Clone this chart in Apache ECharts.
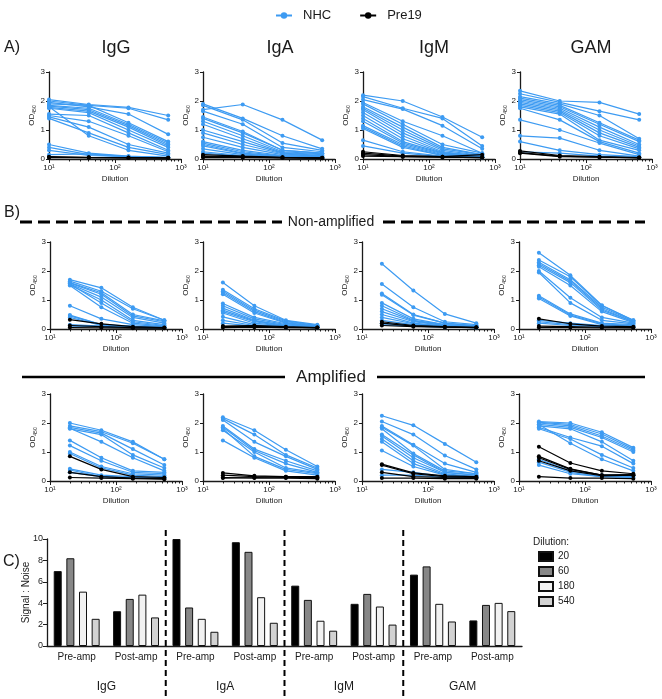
<!DOCTYPE html>
<html>
<head>
<meta charset="utf-8">
<script src="https://cdn.jsdelivr.net/npm/echarts@6/dist/echarts.min.js"></script>
<style>
  html, body { margin: 0; padding: 0; background: #fff; }
  #chart { width: 662px; height: 699px; }
</style>
</head>
<body>
<div id="chart"></div>
<script>
// dilutions (A: 4-fold from 10, B: 3-fold from 20)
const dilA = [10, 40, 160, 640];
const dilB = [20, 60, 180, 540];
const logTicks = { 1: '10\u00b9', 2: '10\u00b2', 3: '10\u00b3' };

// ---- A) ----
const aIgG_nhc = [
  [2.05, 1.88, 1.78, 1.50], [2.00, 1.85, 1.75, 1.35], [1.95, 1.80, 1.55, 0.85], [1.90, 1.85, 1.25, 0.60],
  [1.85, 1.75, 1.20, 0.55], [1.82, 1.70, 1.15, 0.50], [1.78, 1.65, 1.10, 0.45], [1.75, 1.60, 1.00, 0.40],
  [1.55, 1.50, 0.90, 0.30], [1.50, 1.30, 0.80, 0.25], [1.45, 1.10, 0.50, 0.20], [1.40, 0.90, 0.40, 0.15],
  [1.80, 0.80, 0.30, 0.10], [0.50, 0.20, 0.10, 0.05], [0.40, 0.15, 0.08, 0.05], [0.30, 0.12, 0.08, 0.05],
  [0.15, 0.18, 0.08, 0.05]
];
const aIgG_pre = [[0.08, 0.06, 0.05, 0.04], [0.06, 0.05, 0.04, 0.04], [0.05, 0.05, 0.04, 0.03]];

const aIgA_nhc = [
  [1.70, 1.88, 1.35, 0.65], [1.90, 1.40, 0.80, 0.35], [1.85, 1.35, 0.55, 0.30], [1.65, 1.20, 0.40, 0.25],
  [1.45, 0.95, 0.30, 0.20], [1.40, 0.90, 0.30, 0.20], [1.30, 0.80, 0.25, 0.18], [1.20, 0.70, 0.22, 0.15],
  [1.00, 0.60, 0.20, 0.12], [0.90, 0.50, 0.18, 0.10], [0.75, 0.40, 0.15, 0.10], [0.60, 0.30, 0.12, 0.08],
  [0.55, 0.25, 0.10, 0.08], [0.50, 0.20, 0.10, 0.06], [0.45, 0.18, 0.08, 0.05], [0.35, 0.15, 0.08, 0.05],
  [0.25, 0.12, 0.06, 0.04], [0.20, 0.10, 0.06, 0.04]
];
const aIgA_pre = [[0.15, 0.10, 0.06, 0.04], [0.10, 0.08, 0.05, 0.04], [0.08, 0.06, 0.05, 0.03], [0.05, 0.05, 0.04, 0.03]];

const aIgM_nhc = [
  [2.20, 2.00, 1.45, 0.75], [2.15, 1.75, 1.40, 0.45], [2.05, 1.72, 1.15, 0.35], [1.95, 1.30, 0.80, 0.20],
  [1.90, 1.20, 0.50, 0.20], [1.80, 1.10, 0.40, 0.15], [1.75, 1.00, 0.35, 0.15], [1.70, 0.90, 0.30, 0.12],
  [1.60, 0.80, 0.25, 0.10], [1.50, 0.70, 0.22, 0.10], [1.40, 0.60, 0.20, 0.10], [1.30, 0.55, 0.18, 0.08],
  [1.15, 0.50, 0.15, 0.08], [1.10, 0.45, 0.12, 0.08], [1.05, 0.40, 0.12, 0.06], [0.65, 0.25, 0.10, 0.06],
  [0.45, 0.20, 0.08, 0.05]
];
const aIgM_pre = [[0.25, 0.12, 0.08, 0.15], [0.20, 0.10, 0.08, 0.06], [0.15, 0.08, 0.06, 0.05], [0.10, 0.08, 0.06, 0.05]];

const aGAM_nhc = [
  [2.35, 2.00, 1.95, 1.55], [2.25, 1.95, 1.65, 1.35], [2.15, 1.90, 1.50, 0.70], [2.10, 1.85, 1.25, 0.65],
  [2.05, 1.80, 1.20, 0.60], [2.00, 1.75, 1.10, 0.50], [1.95, 1.70, 1.00, 0.45], [1.90, 1.65, 0.90, 0.40],
  [1.85, 1.60, 0.80, 0.35], [1.80, 1.55, 0.65, 0.30], [1.75, 1.35, 0.60, 0.20], [1.35, 1.00, 0.55, 0.15],
  [0.80, 0.72, 0.30, 0.10], [0.60, 0.30, 0.15, 0.08], [0.25, 0.20, 0.10, 0.06]
];
const aGAM_pre = [[0.28, 0.12, 0.08, 0.05], [0.22, 0.10, 0.06, 0.05], [0.20, 0.08, 0.06, 0.04]];

// ---- B) non-amplified ----
const nIgG_nhc = [
  [1.70, 1.42, 0.75, 0.30], [1.65, 1.30, 0.70, 0.30], [1.60, 1.25, 0.50, 0.28], [1.58, 1.20, 0.45, 0.25],
  [1.55, 1.10, 0.40, 0.20], [1.52, 1.00, 0.30, 0.15], [1.55, 0.90, 0.25, 0.12], [1.50, 0.75, 0.20, 0.10],
  [0.80, 0.35, 0.15, 0.08], [0.48, 0.15, 0.10, 0.06], [0.45, 0.15, 0.08, 0.05], [0.40, 0.12, 0.08, 0.05],
  [0.15, 0.10, 0.06, 0.04], [0.10, 0.08, 0.05, 0.04]
];
const nIgG_pre = [[0.32, 0.18, 0.08, 0.05], [0.12, 0.08, 0.05, 0.04], [0.05, 0.04, 0.03, 0.03]];

const nIgA_nhc = [
  [1.60, 0.80, 0.30, 0.15], [1.35, 0.70, 0.28, 0.12], [1.30, 0.65, 0.25, 0.12], [1.25, 0.60, 0.22, 0.10],
  [1.20, 0.55, 0.20, 0.10], [0.88, 0.40, 0.18, 0.10], [0.80, 0.35, 0.15, 0.08], [0.72, 0.30, 0.12, 0.08],
  [0.65, 0.28, 0.12, 0.08], [0.60, 0.25, 0.10, 0.06], [0.55, 0.20, 0.10, 0.06], [0.42, 0.15, 0.08, 0.05],
  [0.30, 0.12, 0.08, 0.05], [0.20, 0.10, 0.06, 0.05]
];
const nIgA_pre = [[0.08, 0.10, 0.06, 0.05], [0.05, 0.06, 0.05, 0.04], [0.10, 0.12, 0.08, 0.05]];

const nIgM_nhc = [
  [2.25, 1.33, 0.52, 0.20], [1.55, 0.75, 0.25, 0.15], [1.22, 0.50, 0.20, 0.12], [1.18, 0.48, 0.20, 0.10],
  [0.90, 0.35, 0.15, 0.10], [0.80, 0.30, 0.15, 0.08], [0.70, 0.28, 0.12, 0.08], [0.60, 0.25, 0.12, 0.08],
  [0.50, 0.20, 0.10, 0.06], [0.40, 0.18, 0.10, 0.06], [0.30, 0.15, 0.08, 0.05], [0.20, 0.12, 0.08, 0.05],
  [0.15, 0.10, 0.06, 0.05]
];
const nIgM_pre = [[0.25, 0.12, 0.08, 0.06], [0.20, 0.10, 0.07, 0.05], [0.12, 0.08, 0.06, 0.05]];

const nGAM_nhc = [
  [2.63, 1.85, 0.82, 0.30], [2.38, 1.80, 0.80, 0.30], [2.30, 1.70, 0.75, 0.28], [2.25, 1.65, 0.70, 0.25],
  [2.20, 1.60, 0.65, 0.25], [2.15, 1.50, 0.60, 0.22], [2.00, 1.08, 0.40, 0.20], [1.95, 0.90, 0.30, 0.18],
  [1.15, 0.52, 0.20, 0.15], [1.10, 0.48, 0.18, 0.12], [1.05, 0.45, 0.15, 0.10], [0.30, 0.20, 0.12, 0.08],
  [0.25, 0.15, 0.10, 0.08], [0.20, 0.12, 0.08, 0.06]
];
const nGAM_pre = [[0.35, 0.18, 0.10, 0.08], [0.10, 0.08, 0.06, 0.05], [0.05, 0.05, 0.04, 0.04]];

// ---- B) amplified ----
const pIgG_nhc = [
  [2.00, 1.75, 1.35, 0.75], [1.90, 1.70, 1.30, 0.75], [1.85, 1.65, 1.10, 0.55], [1.80, 1.60, 0.90, 0.45],
  [1.82, 1.35, 0.80, 0.35], [1.40, 0.80, 0.35, 0.30], [1.22, 0.70, 0.30, 0.25], [1.00, 0.50, 0.25, 0.20],
  [0.95, 0.45, 0.20, 0.15], [0.42, 0.20, 0.15, 0.12], [0.38, 0.15, 0.12, 0.10], [0.30, 0.15, 0.10, 0.10]
];
const pIgG_pre = [[0.85, 0.40, 0.15, 0.12], [0.30, 0.15, 0.10, 0.08], [0.12, 0.10, 0.08, 0.06]];

const pIgA_nhc = [
  [2.20, 1.75, 1.08, 0.50], [2.15, 1.60, 0.90, 0.45], [2.10, 1.35, 0.85, 0.40], [1.90, 1.10, 0.70, 0.35],
  [1.85, 1.05, 0.60, 0.30], [1.75, 1.00, 0.45, 0.28], [1.80, 0.85, 0.40, 0.25], [1.40, 0.80, 0.35, 0.20]
];
const pIgA_pre = [[0.28, 0.18, 0.15, 0.15], [0.20, 0.15, 0.12, 0.12], [0.12, 0.10, 0.10, 0.08], [0.10, 0.12, 0.15, 0.10]];

const pIgM_nhc = [
  [2.25, 1.92, 1.28, 0.65], [2.05, 1.60, 0.88, 0.40], [1.90, 1.25, 0.60, 0.30], [1.85, 1.22, 0.40, 0.25],
  [1.80, 0.95, 0.35, 0.25], [1.60, 0.90, 0.30, 0.20], [1.55, 0.80, 0.30, 0.20], [1.45, 0.70, 0.25, 0.15],
  [1.35, 0.60, 0.22, 0.15], [1.05, 0.50, 0.20, 0.12], [0.40, 0.30, 0.15, 0.10], [0.20, 0.20, 0.12, 0.10]
];
const pIgM_pre = [[0.58, 0.28, 0.18, 0.15], [0.55, 0.25, 0.15, 0.12], [0.30, 0.15, 0.12, 0.10], [0.10, 0.10, 0.08, 0.08]];

const pGAM_nhc = [
  [2.05, 2.00, 1.68, 1.15], [2.02, 1.95, 1.62, 1.10], [2.00, 1.90, 1.55, 1.05], [1.95, 1.85, 1.50, 1.00],
  [1.90, 1.80, 1.35, 0.70], [1.85, 1.50, 1.20, 0.60], [1.80, 1.45, 0.90, 0.45], [1.95, 1.30, 0.75, 0.35],
  [0.75, 0.35, 0.20, 0.20], [0.65, 0.30, 0.15, 0.15], [0.55, 0.25, 0.15, 0.12]
];
const pGAM_pre = [[1.18, 0.62, 0.35, 0.25], [0.85, 0.42, 0.20, 0.22], [0.80, 0.40, 0.20, 0.20], [0.70, 0.35, 0.18, 0.20], [0.15, 0.10, 0.10, 0.08]];

// ---- C) signal : noise ----
const snCategories = ['Pre-amp', 'Post-amp', 'Pre-amp', 'Post-amp', 'Pre-amp', 'Post-amp', 'Pre-amp', 'Post-amp'];
const snGroups = ['IgG', 'IgA', 'IgM', 'GAM'];
const snDilutions = ['20', '60', '180', '540'];
const sn20 = [7.0, 3.25, 10.0, 9.7, 5.64, 3.94, 6.67, 2.39];
const sn60 = [8.2, 4.4, 3.6, 8.8, 4.31, 4.87, 7.44, 3.84];
const sn180 = [5.08, 4.8, 2.54, 4.56, 2.36, 3.69, 3.94, 4.03];
const sn540 = [2.54, 2.67, 1.33, 2.17, 1.43, 2.0, 2.29, 3.26];

const BLUE = '#3d9bf2';
const INK = '#1a1a1a';
const FONT = '"Liberation Sans", Arial, sans-serif';
const barColors = ['#000000', '#878787', '#f2f2f2', '#d2d2d2'];

// log minor tick positions (2..9 per decade), drawn on a plain value axis in log10 units
const minorLog = [];
[1, 2].forEach(d => { for (let k = 2; k <= 9; k++) minorLog.push(d + Math.log10(k)); });

const rows = [
  { top: 72, lefts: [49, 203, 363, 520], dil: dilA,
    sets: [[aIgG_nhc, aIgG_pre], [aIgA_nhc, aIgA_pre], [aIgM_nhc, aIgM_pre], [aGAM_nhc, aGAM_pre]] },
  { top: 242, lefts: [50, 203, 362, 519], dil: dilB,
    sets: [[nIgG_nhc, nIgG_pre], [nIgA_nhc, nIgA_pre], [nIgM_nhc, nIgM_pre], [nGAM_nhc, nGAM_pre]] },
  { top: 394, lefts: [50, 203, 362, 519], dil: dilB,
    sets: [[pIgG_nhc, pIgG_pre], [pIgA_nhc, pIgA_pre], [pIgM_nhc, pIgM_pre], [pGAM_nhc, pGAM_pre]] }
];

const grids = [], xAxes = [], yAxes = [], series = [], minorAxes = [];

function lineSeries(name, color, gi, dil, vals, z) {
  return {
    type: 'line', name: name, xAxisIndex: gi, yAxisIndex: gi,
    data: vals.map((y, k) => [dil[k], y]),
    symbol: 'circle', symbolSize: 4, z: z,
    lineStyle: { color: color, width: 1.2 },
    itemStyle: { color: color },
    emphasis: { disabled: true }, animation: false
  };
}

rows.forEach(row => {
  row.sets.forEach((set, j) => {
    const gi = grids.length;
    grids.push({ left: row.lefts[j], top: row.top, width: 132, height: 87 });
    xAxes.push({
      type: 'log', logBase: 10, min: 10, max: 1000, gridIndex: gi,
      name: 'Dilution', nameLocation: 'middle', nameGap: 16,
      nameTextStyle: { fontSize: 8, color: INK, fontFamily: FONT },
      axisLine: { onZero: false, lineStyle: { color: INK, width: 1.3 } },
      axisTick: { length: 4, lineStyle: { color: INK, width: 1 } },
      splitLine: { show: false },
      axisLabel: { fontSize: 8, color: INK, fontFamily: FONT, margin: 5,
        formatter: v => logTicks[Math.round(Math.log10(v))] || '' }
    });
    minorAxes.push({
      type: 'value', min: 1, max: 3, gridIndex: gi, position: 'bottom',
      axisLine: { show: false }, axisLabel: { show: false }, splitLine: { show: false },
      axisTick: { show: true, length: 2.5, customValues: minorLog, lineStyle: { color: INK, width: 1 } }
    });
    yAxes.push({
      type: 'value', min: 0, max: 3, interval: 1, gridIndex: gi,
      name: 'OD{s|450}', nameLocation: 'middle', nameGap: 12, nameRotate: 90,
      nameTextStyle: { fontSize: 8, color: INK, fontFamily: FONT,
        rich: { s: { fontSize: 5, color: INK, padding: [5, 0, 0, 0], fontFamily: FONT } } },
      axisLine: { show: true, lineStyle: { color: INK, width: 1.3 } },
      axisTick: { show: true, length: 3, lineStyle: { color: INK } },
      splitLine: { show: false },
      axisLabel: { fontSize: 8, color: INK, fontFamily: FONT, margin: 4 }
    });
    set[0].forEach(v => series.push(lineSeries('NHC', BLUE, gi, row.dil, v, 2)));
    set[1].forEach(v => series.push(lineSeries('Pre19', '#000000', gi, row.dil, v, 3)));
  });
});

// bar panel
const bi = grids.length;
const barX = xAxes.length;
grids.push({ left: 47, top: 539, width: 475, height: 107 });
xAxes.push({
  type: 'category', gridIndex: bi, data: snCategories,
  axisLine: { lineStyle: { color: INK, width: 1.3 } },
  axisTick: { alignWithLabel: true, length: 4, lineStyle: { color: INK } },
  axisLabel: { fontSize: 10, color: INK, fontFamily: FONT, margin: 6, interval: 0 }
});
xAxes.push({
  type: 'category', gridIndex: bi, data: snGroups, position: 'bottom', offset: 27,
  axisLine: { show: false }, axisTick: { show: false },
  axisLabel: { fontSize: 12, color: INK, fontFamily: FONT, interval: 0 }
});
const barY = yAxes.length;
yAxes.push({
  type: 'value', gridIndex: bi, min: 0, max: 10, interval: 2,
  name: 'Signal : Noise', nameLocation: 'middle', nameGap: 16, nameRotate: 90,
  nameMoveOverlap: false,
  nameTextStyle: { fontSize: 10, color: INK, fontFamily: FONT },
  axisLine: { show: true, lineStyle: { color: INK, width: 1.3 } },
  axisTick: { show: true, length: 4, lineStyle: { color: INK } },
  splitLine: { show: false },
  axisLabel: { fontSize: 9, color: INK, fontFamily: FONT, margin: 4 }
});
[sn20, sn60, sn180, sn540].forEach((vals, k) => {
  series.push({
    type: 'bar', name: snDilutions[k], xAxisIndex: barX, yAxisIndex: barY,
    data: vals, barWidth: 8, barGap: '58%',
    itemStyle: { color: barColors[k], borderColor: '#111', borderWidth: 1 },
    emphasis: { disabled: true }, animation: false
  });
});

// dashed separators between antibody groups in C
const sepLines = [1, 2, 3].map(k => ({
  type: 'line', silent: true,
  shape: { x1: 47 + 475 * k / 4, y1: 530, x2: 47 + 475 * k / 4, y2: 699 },
  style: { stroke: '#000', lineWidth: 2, lineDash: [6, 4] }
}));

const textStyle = (t, x, y, size, align) => ({
  type: 'text', x: x, y: y, silent: true,
  style: { text: t, fontSize: size, fontFamily: FONT, fill: INK, align: align || 'left', verticalAlign: 'middle' }
});

const graphics = [
  textStyle('A)', 4, 48, 16),
  textStyle('IgG', 116, 48, 18, 'center'),
  textStyle('IgA', 280, 48, 18, 'center'),
  textStyle('IgM', 434, 48, 18, 'center'),
  textStyle('GAM', 591, 48, 18, 'center'),
  textStyle('B)', 4, 213, 16),
  textStyle('Non-amplified', 331, 222, 14, 'center'),
  { type: 'line', silent: true, shape: { x1: 20, y1: 222, x2: 282, y2: 222 }, style: { stroke: '#000', lineWidth: 3, lineDash: [12, 6] } },
  { type: 'line', silent: true, shape: { x1: 383, y1: 222, x2: 645, y2: 222 }, style: { stroke: '#000', lineWidth: 3, lineDash: [12, 6] } },
  textStyle('Amplified', 331, 377, 17, 'center'),
  { type: 'line', silent: true, shape: { x1: 22, y1: 377, x2: 285, y2: 377 }, style: { stroke: '#000', lineWidth: 2.5 } },
  { type: 'line', silent: true, shape: { x1: 377, y1: 377, x2: 645, y2: 377 }, style: { stroke: '#000', lineWidth: 2.5 } },
  textStyle('C)', 3, 562, 16),
  textStyle('Dilution:', 533, 542, 10)
].concat(sepLines);

const chart = echarts.init(document.getElementById('chart'), null, { renderer: 'canvas' });
chart.setOption({
  animation: false,
  backgroundColor: '#ffffff',
  textStyle: { fontFamily: FONT },
  legend: [
    { data: ['NHC', 'Pre19'], top: 4, left: 270, itemWidth: 16, itemHeight: 8, itemGap: 28,
      textStyle: { fontSize: 13, color: INK, fontFamily: FONT, padding: [0, 0, 0, 6] } },
    { data: snDilutions, orient: 'vertical', left: 533, top: 546, icon: 'rect',
      itemWidth: 14, itemHeight: 9, itemGap: 4,
      textStyle: { fontSize: 10, color: INK, fontFamily: FONT } }
  ],
  grid: grids,
  xAxis: xAxes.concat(minorAxes),
  yAxis: yAxes,
  series: series,
  graphic: graphics
});
</script>
</body>
</html>
